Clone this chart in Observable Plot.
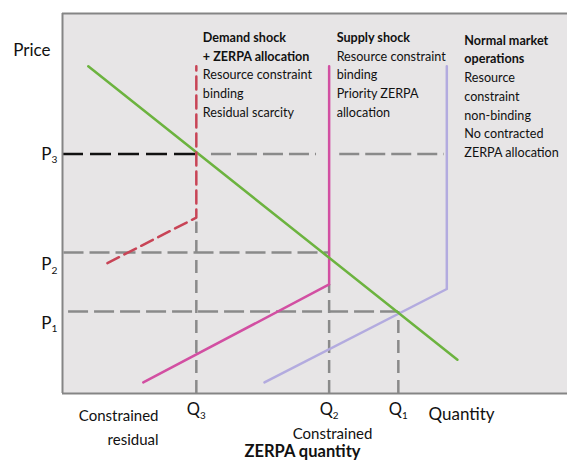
<!DOCTYPE html>
<html><head><meta charset="utf-8">
<script src="https://cdn.jsdelivr.net/npm/d3@7"></script>
<script src="https://cdn.jsdelivr.net/npm/@observablehq/plot@0.6"></script>
<style>body{margin:0;background:#fff}</style>
</head><body><div id="chart"></div>
<script>
// Quantities and prices (abstract units: frame spans 0..100 on both axes)
const Q3 = 26.5, Q2 = 52.8, Q1 = 66.5;
const P3 = 63.0, P2 = 37.1, P1 = 21.6;
const TOP = 86.1;

const demand = [{x: 5.1, y: 86.1}, {x: 78.2, y: 8.9}];
const supplyShock = [{x: 16.0, y: 2.9}, {x: Q2, y: 28.7}, {x: Q2, y: TOP}];
const normalSupply = [{x: 40.0, y: 2.9}, {x: 76.1, y: 27.5}, {x: 76.1, y: TOP}];
const demandShockSupply = [{x: 8.9, y: 34.3}, {x: Q3, y: 46.3}, {x: Q3, y: TOP}];

const blackGuide = [{x1: 0, x2: Q3, y: P3}];
const grayHGuides = [
  {x1: 29.5, x2: 50.3, y: P3},
  {x1: 54.9, x2: 75.6, y: P3},
  {x1: 0.3, x2: Q2, y: P2},
  {x1: 1.2, x2: Q1, y: P1}
];
const grayVGuides = [
  {x: Q3, y1: 0, y2: 45.1},
  {x: Q2, y1: 0, y2: 28.7},
  {x: Q1, y1: 0, y2: P1}
];

const qTicks = [{label: "Q3", x: Q3}, {label: "Q2", x: Q2}, {label: "Q1", x: Q1}];
const pTop = [{label: "P3", y: P3}];
const pLow = [{label: "P2", y: P2}, {label: "P1", y: P1}];

const notes = [
  {x: Q3, bold: "Demand shock\n+ ZERPA allocation", text: "Resource constraint\nbinding\nResidual scarcity"},
  {x: Q2, bold: "Supply shock", text: "Resource constraint\nbinding\nPriority ZERPA\nallocation"},
  {x: 76.1, bold: "Normal market\noperations", text: "Resource\nconstraint\nnon-binding\nNo contracted\nZERPA allocation"}
];

const FONT = "Lato, 'Open Sans', sans-serif";
const gray = "#8a8a8a";
const NS = 12.6;   // annotation font size
const LH = 18.7 / NS;

const chart = Plot.plot({
  width: 567, height: 462,
  marginLeft: 62, marginRight: 0, marginTop: 13, marginBottom: 69,
  x: {domain: [0, 100], axis: null},
  y: {domain: [0, 100], axis: null},
  style: {fontFamily: FONT, fontSize: "13px", color: "#111"},
  marks: [
    Plot.frame({fill: "#e7e5e6", stroke: null}),
    Plot.ruleY(grayHGuides, {x1: "x1", x2: "x2", y: "y", stroke: gray, strokeWidth: 2.5, strokeDasharray: "20,6"}),
    Plot.ruleX(grayVGuides, {x: "x", y1: "y1", y2: "y2", stroke: gray, strokeWidth: 2.5, strokeDasharray: "13,7"}),
    Plot.ruleY(blackGuide, {x1: "x1", x2: "x2", y: "y", stroke: "#111", strokeWidth: 2.5, strokeDasharray: "21,7"}),
    Plot.line(normalSupply, {x: "x", y: "y", stroke: "#b3abdf", strokeWidth: 2.5}),
    Plot.line(supplyShock, {x: "x", y: "y", stroke: "#d24fa2", strokeWidth: 2.5}),
    Plot.line(demand, {x: "x", y: "y", stroke: "#6cb33f", strokeWidth: 2.5}),
    Plot.line(demandShockSupply, {x: "x", y: "y", stroke: "#c84456", strokeWidth: 2.5, strokeDasharray: "13,6"}),
    Plot.ruleY([0, 100], {stroke: "#858585", strokeWidth: 2}),
    Plot.ruleX([0], {stroke: "#858585", strokeWidth: 2}),
    // annotations
    Plot.text(notes.slice(0, 1), {x: "x", text: "bold", frameAnchor: "top", textAnchor: "start", lineAnchor: "top", dx: 6.5, dy: 15.3, fontWeight: "bold", fontSize: NS, lineHeight: LH}),
    Plot.text(notes.slice(0, 1), {x: "x", text: "text", frameAnchor: "top", textAnchor: "start", lineAnchor: "top", dx: 6.5, dy: 15.3 + 2 * 18.7, fontSize: NS, lineHeight: LH}),
    Plot.text(notes.slice(1, 2), {x: "x", text: "bold", frameAnchor: "top", textAnchor: "start", lineAnchor: "top", dx: 7.5, dy: 15.3, fontWeight: "bold", fontSize: NS, lineHeight: LH}),
    Plot.text(notes.slice(1, 2), {x: "x", text: "text", frameAnchor: "top", textAnchor: "start", lineAnchor: "top", dx: 7.5, dy: 15.3 + 18.7, fontSize: NS, lineHeight: LH}),
    Plot.text(notes.slice(2, 3), {x: "x", text: "bold", frameAnchor: "top", textAnchor: "start", lineAnchor: "top", dx: 17.5, dy: 18, fontWeight: "bold", fontSize: NS, lineHeight: LH}),
    Plot.text(notes.slice(2, 3), {x: "x", text: "text", frameAnchor: "top", textAnchor: "start", lineAnchor: "top", dx: 17.5, dy: 18 + 2 * 18.7, fontSize: NS, lineHeight: LH}),
    // tick labels
    Plot.text(qTicks, {x: "x", text: "label", frameAnchor: "bottom", lineAnchor: "top", dy: 10, fontSize: 16.5}),
    Plot.text(pTop, {y: "y", text: "label", frameAnchor: "left", textAnchor: "end", lineAnchor: "middle", dx: -5, fontSize: 17}),
    Plot.text(pLow, {y: "y", text: "label", frameAnchor: "left", textAnchor: "end", lineAnchor: "middle", dx: -5, dy: 12, fontSize: 17}),
    // axis titles
    Plot.text(["Price"], {frameAnchor: "top-left", textAnchor: "end", lineAnchor: "top", dx: -12, dy: 30, fontSize: 17}),
    Plot.text(["Quantity"], {frameAnchor: "bottom-left", textAnchor: "start", lineAnchor: "top", dx: 366, dy: 14, fontSize: 17}),
    Plot.text(["Constrained\nresidual"], {frameAnchor: "bottom-left", textAnchor: "end", lineAnchor: "top", dx: 96, dy: 10, fontSize: 15, lineHeight: 1.6}),
    Plot.text(["Constrained"], {frameAnchor: "bottom-left", textAnchor: "middle", lineAnchor: "top", dx: 270, dy: 35, fontSize: 15}),
    Plot.text(["ZERPA quantity"], {frameAnchor: "bottom-left", textAnchor: "middle", lineAnchor: "top", dx: 240, dy: 52, fontSize: 16.5, fontWeight: "bold"})
  ]
});

// render subscripts for P/Q tick labels
d3.select(chart).selectAll("text").each(function() {
  const el = d3.select(this);
  if (el.selectAll("tspan").size()) return;
  const m = /^([PQ])(\d)$/.exec(el.text());
  if (!m) return;
  el.text("");
  el.append("tspan").text(m[1]);
  el.append("tspan").attr("font-size", "0.6em").attr("dy", "0.35em").text(m[2]);
});

document.getElementById("chart").appendChild(chart);
</script>
</body></html>
